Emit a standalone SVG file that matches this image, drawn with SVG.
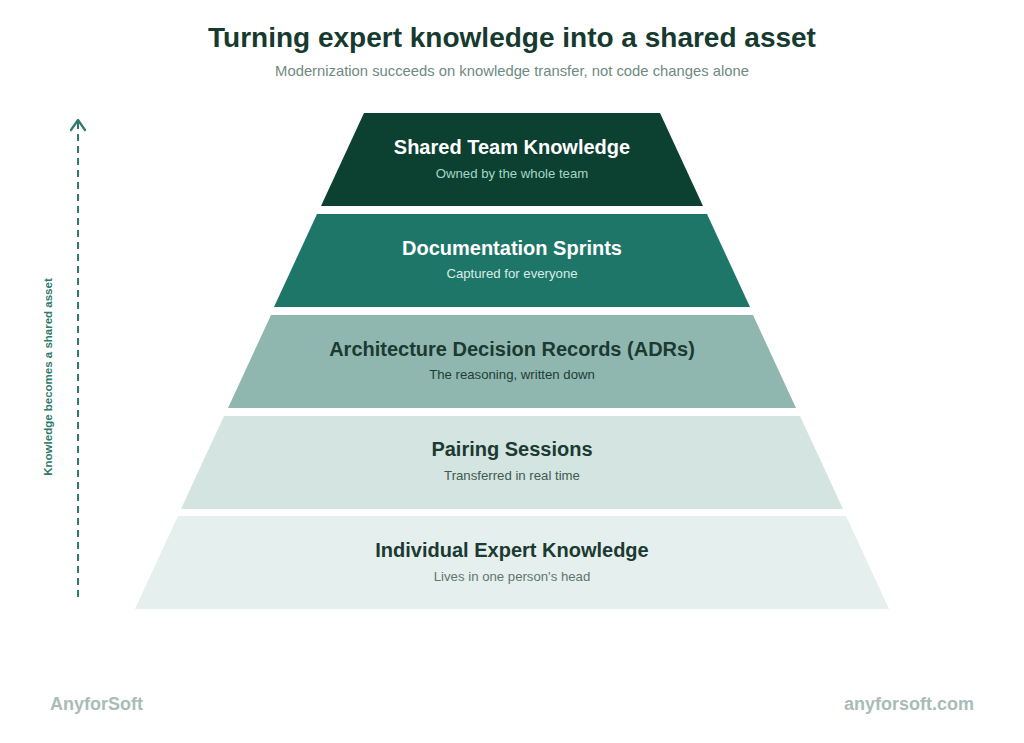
<svg xmlns="http://www.w3.org/2000/svg" width="1024" height="743" viewBox="0 0 1024 743">
<style>
text{font-family:"Liberation Sans",Arial,sans-serif;text-anchor:middle}
.t{font-size:20px;font-weight:bold}
.s{font-size:13.2px}
.light{fill:#ffffff}
.dark{fill:#1b3a31}
.brand{font-size:18px;font-weight:bold;fill:#a9bcb6}
</style>
<rect width="1024" height="743" fill="#ffffff"/>
<text x="512" y="47" style="font-size:28px;font-weight:bold" fill="#163a2f">Turning expert knowledge into a shared asset</text>
<text x="512" y="76" style="font-size:14.8px" fill="#6e8a83">Modernization succeeds on knowledge transfer, not code changes alone</text>

<g id="connectors">
<line x1="78" y1="122" x2="78" y2="600" stroke="#2e7a6b" stroke-width="2" stroke-dasharray="7,5"/>
<polyline points="71,130 78,120 85,130" fill="none" stroke="#2e7a6b" stroke-width="2.2" stroke-linecap="round" stroke-linejoin="round"/>
<text transform="translate(52,377) rotate(-90)" style="font-size:11.5px;font-weight:bold" fill="#2e7a6b">Knowledge becomes a shared asset</text>
</g>

<g id="tier1">
<polygon points="364,113 660,113 703,206 321,206" fill="#0c4031"/>
<text class="t light" x="512" y="154">Shared Team Knowledge</text>
<text class="s" x="512" y="178" fill="#a3d8c5">Owned by the whole team</text>
</g>
<g id="tier2">
<polygon points="317,214 707,214 750,307 274,307" fill="#1e7668"/>
<text class="t light" x="512" y="255">Documentation Sprints</text>
<text class="s" x="512" y="278" fill="#d9ece7">Captured for everyone</text>
</g>
<g id="tier3">
<polygon points="271,315 753,315 796,408 228,408" fill="#8fb7af"/>
<text class="t dark" x="512" y="356">Architecture Decision Records (ADRs)</text>
<text class="s" x="512" y="379" fill="#1f3d35">The reasoning, written down</text>
</g>
<g id="tier4">
<polygon points="224,416 800,416 843,509 181,509" fill="#d4e4e0"/>
<text class="t dark" x="512" y="456">Pairing Sessions</text>
<text class="s" x="512" y="480" fill="#3f5a52">Transferred in real time</text>
</g>
<g id="tier5">
<polygon points="178,516 846,516 889,609 135,609" fill="#e5efed"/>
<text class="t dark" x="512" y="557">Individual Expert Knowledge</text>
<text class="s" x="512" y="581" fill="#5e766f">Lives in one person's head</text>
</g>

<text class="brand" x="50" y="710" style="text-anchor:start">AnyforSoft</text>
<text class="brand" x="974" y="710" style="text-anchor:end">anyforsoft.com</text>
</svg>
